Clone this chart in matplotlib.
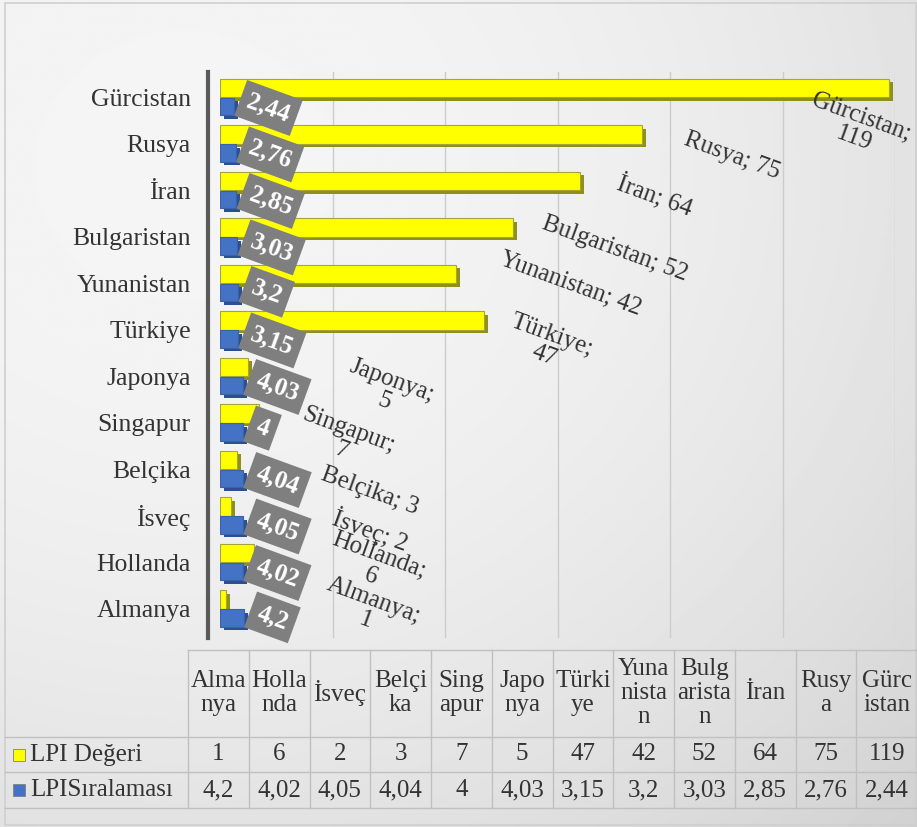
import numpy as np
import matplotlib.pyplot as plt
from matplotlib.patches import Rectangle

countries = ['Almanya', 'Hollanda', 'İsveç', 'Belçika', 'Singapur', 'Japonya',
             'Türkiye', 'Yunanistan', 'Bulgaristan', 'İran', 'Rusya', 'Gürcistan']
lpi_degeri = [1, 6, 2, 3, 7, 5, 47, 42, 52, 64, 75, 119]
lpi_sira = [4.2, 4.02, 4.05, 4.04, 4, 4.03, 3.15, 3.2, 3.03, 2.85, 2.76, 2.44]
table_heads = ['Alma\nnya', 'Holla\nnda', 'İsveç', 'Belçi\nka', 'Sing\napur', 'Japo\nnya',
               'Türki\nye', 'Yuna\nnista\nn', 'Bulg\narista\nn', 'İran', 'Rusy\na', 'Gürc\nistan']
series = ['LPI Değeri', 'LPISıralaması']

# label layout (pixels from bar end), wrapping of the yellow labels
wrap = [1, 1, 0, 0, 1, 1, 1, 0, 0, 0, 0, 1]
lab_off = [(144, -11), (121, -13), (139, -24), (133, -31), (86, -27), (140, -24),
           (64, -25), (114, -10), (102, -22), (75, -15), (90, -22), (-32, -40)]

YEL, YEL_D = '#ffff00', '#8f8f1c'
BLU, BLU_D = '#4472c4', '#2b4f8f'
TXT = '#333333'

plt.rcParams['font.family'] = ['Liberation Serif', 'DejaVu Serif']


def tr(v):
    return ('%g' % v).replace('.', ',')


W, H = 917, 827
fig = plt.figure(figsize=(W / 100, H / 100), dpi=100)

# background gradient
bg = fig.add_axes([0, 0, 1, 1], zorder=-10)
gx, gy = np.meshgrid(np.linspace(0, 1, 300), np.linspace(0, 1, 300))
r2 = (gx - 0.2) ** 2 + (gy - 0.2) ** 2
bg.imshow(0.96 - 0.11 * r2, cmap='gray', vmin=0, vmax=1, aspect='auto',
          extent=[0, 1, 1, 0])
bg.set_xlim(0, 1)
bg.set_ylim(1, 0)
bg.axis('off')
bg.add_patch(Rectangle((5 / W, 3 / H), 1 - 6 / W, 1 - 5 / H, fill=False,
                       ec='#cfcfcf', lw=1.2))

ax = fig.add_axes([220 / W, 1 - 638 / H, 675 / W, 566 / H])
ax.patch.set_alpha(0)
y = np.arange(len(countries))
dx = 4 / 5.625
dy = 3.5 / 46.5

ax.barh(y + 0.2 - dy, lpi_degeri, left=dx, height=0.4, color=YEL_D, zorder=3)
ax.barh(y + 0.2, lpi_degeri, height=0.4, color=YEL, ec='#a5a53a', lw=0.8, zorder=4)
ax.barh(y - 0.2 - dy, lpi_sira, left=dx, height=0.38, color=BLU_D, zorder=3)
ax.barh(y - 0.2, lpi_sira, height=0.38, color=BLU, ec='#3a62a8', lw=0.8, zorder=4)

for i in range(len(countries)):
    ax.annotate(tr(lpi_sira[i]), xy=(lpi_sira[i] + dx, y[i] - 0.2), xytext=(10, 6),
                textcoords='offset pixels', ha='left', va='center', rotation=-20,
                rotation_mode='anchor', color='white', fontweight='bold', fontsize=18,
                bbox=dict(boxstyle='square,pad=0.3', fc='#7f7f7f', ec='none'),
                zorder=6)
    sep = ';\n' if wrap[i] else '; '
    ax.annotate(countries[i] + sep + str(lpi_degeri[i]), xy=(lpi_degeri[i], y[i] + 0.2),
                xytext=lab_off[i], textcoords='offset pixels', ha='center', va='center',
                multialignment='center', rotation=-20, rotation_mode='anchor',
                color=TXT, fontsize=18, linespacing=1.0, zorder=6)

ax.set_xlim(0, 120)
ax.set_ylim(-0.63, 11.54)
ax.set_xticks(np.arange(20, 121, 20))
ax.set_xticklabels([])
ax.grid(axis='x', color='#cccccc', lw=1, zorder=0)
ax.set_yticks(y)
ax.set_yticklabels(countries)
ax.tick_params(length=0, pad=12, labelsize=18.5, labelcolor=TXT)
for s in ['top', 'right', 'bottom']:
    ax.spines[s].set_visible(False)
ax.spines['left'].set_position(('outward', 9))
ax.spines['left'].set_color('#595959')
ax.spines['left'].set_linewidth(3)

# data table
tax = fig.add_axes([188 / W, 1 - 808 / H, 729 / W, 158 / H])
tax.set_xlim(0, 12)
tax.set_ylim(158, 0)
tax.axis('off')
cw = 729 / 12
x_left = (5 - 188) / cw
lc = '#c0c0c0'
tax.plot([0, 12], [0, 0], color=lc, lw=1, clip_on=False)
for yy in [87, 122, 158]:
    tax.plot([x_left, 12], [yy, yy], color=lc, lw=1, clip_on=False)
for j in range(13):
    tax.plot([j, j], [0, 158], color=lc, lw=1, clip_on=False)

for j in range(len(countries)):
    tax.text(j + 0.5, 43, table_heads[j], ha='center', va='center', fontsize=18,
             color=TXT, linespacing=1.1)
    tax.text(j + 0.5, 104.5, str(lpi_degeri[j]), ha='center', va='center',
             fontsize=18, color=TXT)
    tax.text(j + 0.5, 140, tr(lpi_sira[j]), ha='center', va='center',
             fontsize=18, color=TXT)

for k, (name, col) in enumerate(zip(series, [YEL, BLU])):
    yc = [104.5, 140][k]
    tax.add_patch(Rectangle(((13 - 188) / cw, yc - 6), 12 / cw, 12, fc=col,
                            ec='#7f7f7f', lw=0.6, clip_on=False))
    tax.text((30 - 188) / cw, yc, name, ha='left', va='center', fontsize=18,
             color=TXT)

fig.savefig('out.png', dpi=100)
